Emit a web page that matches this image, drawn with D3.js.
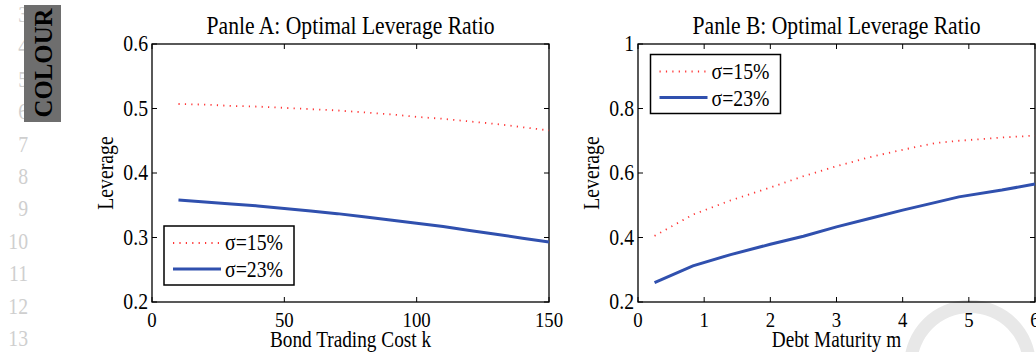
<!DOCTYPE html>
<html lang="en">
<head>
  <meta charset="UTF-8">
  <title>Optimal Leverage Ratio</title>
  <script src="https://d3js.org/d3.v7.min.js"></script>
  <style>
    body { margin: 0; background: #fff; }
  </style>
</head>
<body>
  <svg width="1036" height="352" font-family="'Liberation Serif', 'Times New Roman', Times, serif"></svg>

  <script>
    // Panel A data: bond trading cost k
    const costK = [10, 20, 30, 40, 50, 60, 70, 80, 90, 100, 110, 120, 130, 140, 150];
    const levA15 = [0.507, 0.506, 0.504, 0.503, 0.501, 0.499, 0.497, 0.494, 0.491, 0.487, 0.484, 0.480, 0.476, 0.471, 0.466];
    const levA23 = [0.358, 0.355, 0.352, 0.349, 0.345, 0.341, 0.337, 0.332, 0.327, 0.322, 0.317, 0.311, 0.305, 0.299, 0.293];

    // Panel B data: debt maturity m
    const maturityM = [0.25, 0.83, 1.4, 2, 2.5, 3, 3.5, 4, 4.5, 4.85, 5.5, 6];
    const levB15 = [0.405, 0.471, 0.515, 0.555, 0.590, 0.621, 0.649, 0.672, 0.693, 0.700, 0.710, 0.716];
    const levB23 = [0.260, 0.312, 0.347, 0.379, 0.404, 0.433, 0.459, 0.485, 0.509, 0.526, 0.547, 0.566];

    const ticksAx = [0, 50, 100, 150];
    const ticksAy = [0.2, 0.3, 0.4, 0.5, 0.6];
    const ticksBx = [0, 1, 2, 3, 4, 5, 6];
    const ticksBy = [0.2, 0.4, 0.6, 0.8, 1];
    const seriesNames = ["σ=15%", "σ=23%"];
    const lineNumbers = [3, 4, 5, 6, 7, 8, 9, 10, 11, 12, 13];

    const svg = d3.select("svg");
    const red = "#ff3535", blue = "#3050ae";
    const fs = 21;

    // text in the scan is a bit tall and narrow
    function stretched(sel, x, y, rot) {
      return sel.attr("transform", "translate(" + x + "," + y + ")" + (rot ? " rotate(" + rot + ")" : "") + " scale(0.94,1.08)");
    }

    // page decoration: faint swoosh, line numbers, colour tag
    svg.append("path")
       .attr("d", d3.arc().innerRadius(53).outerRadius(66).startAngle(-Math.PI / 2).endAngle(Math.PI / 2)())
       .attr("transform", "translate(970,366)")
       .attr("fill", "#e8e8e8");

    svg.selectAll(".lineno")
       .data(lineNumbers)
       .enter().append("text")
       .each(function(d, i) { stretched(d3.select(this), 28, 22 + i * 32.4); })
       .attr("text-anchor", "end")
       .attr("font-size", 21)
       .attr("fill", "#cfcfcf")
       .text(d => d);

    svg.append("rect").attr("x", 24).attr("y", 5).attr("width", 37).attr("height", 117).attr("fill", "#6e6e6e");
    svg.append("text")
       .attr("transform", "translate(52,63) rotate(-90) scale(1.08,1.1)")
       .attr("text-anchor", "middle")
       .attr("font-size", 23)
       .attr("font-weight", "bold")
       .attr("fill", "#000")
       .text("COLOUR");

    function panel(opt) {
      const x = d3.scaleLinear().domain(opt.xDomain).range([opt.left, opt.right]);
      const y = d3.scaleLinear().domain(opt.yDomain).range([302, 44]);
      const g = svg.append("g");

      // box with mirrored inward ticks
      g.append("rect")
       .attr("x", opt.left).attr("y", 44)
       .attr("width", opt.right - opt.left).attr("height", 258)
       .attr("fill", "none").attr("stroke", "#000").attr("stroke-width", 1.3);

      const tl = 5;
      opt.xTicks.forEach(t => {
        g.append("line").attr("x1", x(t)).attr("x2", x(t)).attr("y1", 302).attr("y2", 302 - tl).attr("stroke", "#000");
        g.append("line").attr("x1", x(t)).attr("x2", x(t)).attr("y1", 44).attr("y2", 44 + tl).attr("stroke", "#000");
        stretched(g.append("text"), x(t), 327).attr("text-anchor", "middle")
         .attr("font-size", 20).text(t);
      });
      opt.yTicks.forEach(t => {
        g.append("line").attr("x1", opt.left).attr("x2", opt.left + tl).attr("y1", y(t)).attr("y2", y(t)).attr("stroke", "#000");
        g.append("line").attr("x1", opt.right).attr("x2", opt.right - tl).attr("y1", y(t)).attr("y2", y(t)).attr("stroke", "#000");
        stretched(g.append("text"), opt.left - 4, y(t) + 7).attr("text-anchor", "end")
         .attr("font-size", fs).text(t);
      });

      // lines
      const line = d3.line().x(d => x(d[0])).y(d => y(d[1]));
      g.append("path")
       .attr("d", line(d3.zip(opt.xs, opt.s15)))
       .attr("fill", "none").attr("stroke", red).attr("stroke-width", 1.8)
       .attr("stroke-dasharray", "1.2,5.2");
      g.append("path")
       .attr("d", line(d3.zip(opt.xs, opt.s23)))
       .attr("fill", "none").attr("stroke", blue).attr("stroke-width", 3);

      // titles and labels
      stretched(g.append("text"), (opt.left + opt.right) / 2, 34)
       .attr("text-anchor", "middle").attr("font-size", 23).text(opt.title);
      stretched(g.append("text"), (opt.left + opt.right) / 2, 346.5)
       .attr("text-anchor", "middle").attr("font-size", 20.5).text(opt.xLabel);
      stretched(g.append("text"), opt.left - 39, 173, -90)
       .attr("text-anchor", "middle").attr("font-size", fs).text("Leverage");

      // legend
      const lg = g.append("g").attr("transform", "translate(" + opt.legX + "," + opt.legY + ")");
      lg.append("rect").attr("width", 130).attr("height", 59)
        .attr("fill", "#fff").attr("stroke", "#000").attr("stroke-width", 1.5);
      lg.append("line").attr("x1", 9).attr("x2", 55).attr("y1", 17).attr("y2", 17)
        .attr("stroke", red).attr("stroke-width", 1.8).attr("stroke-dasharray", "1.2,5.2");
      lg.append("line").attr("x1", 9).attr("x2", 57).attr("y1", 43).attr("y2", 43)
        .attr("stroke", blue).attr("stroke-width", 3);
      lg.selectAll(".lt").data(seriesNames).enter().append("text")
        .each(function(d, i) { stretched(d3.select(this), 61, 24 + i * 27); })
        .attr("font-size", fs).text(d => d);
    }

    panel({
      left: 152, right: 549, xDomain: [0, 150], yDomain: [0.2, 0.6],
      xTicks: ticksAx, yTicks: ticksAy, xs: costK, s15: levA15, s23: levA23,
      title: "Panle A: Optimal Leverage Ratio", xLabel: "Bond Trading Cost k",
      legX: 164, legY: 226
    });
    panel({
      left: 638, right: 1035, xDomain: [0, 6], yDomain: [0.2, 1],
      xTicks: ticksBx, yTicks: ticksBy, xs: maturityM, s15: levB15, s23: levB23,
      title: "Panle B: Optimal Leverage Ratio", xLabel: "Debt Maturity m",
      legX: 650.5, legY: 54.5
    });
  </script>
</body>
</html>
